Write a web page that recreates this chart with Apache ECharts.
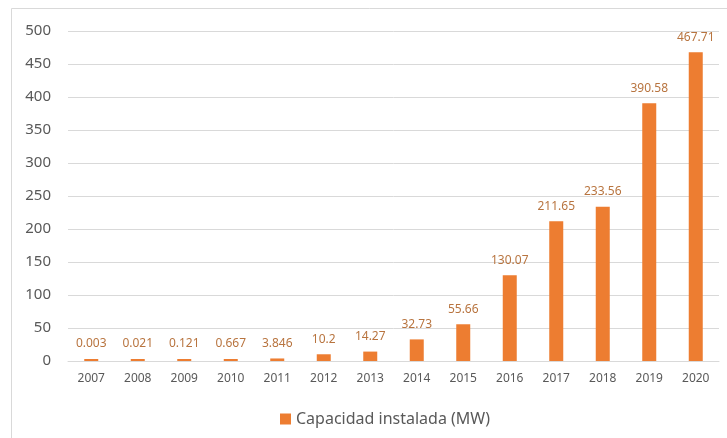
<!DOCTYPE html>
<html><head><meta charset="utf-8">
<script src="https://cdn.jsdelivr.net/npm/echarts@6/dist/echarts.min.js"></script>
<style>html,body{margin:0;padding:0;background:#fff}#c{width:727px;height:438px}</style>
</head><body><div id="c"></div>
<script>
const years = ['2007','2008','2009','2010','2011','2012','2013','2014','2015','2016','2017','2018','2019','2020'];
const capacity = [0.003,0.021,0.121,0.667,3.846,10.2,14.27,32.73,55.66,130.07,211.65,233.56,390.58,467.71];
const labels = ['0.003','0.021','0.121','0.667','3.846','10.2','14.27','32.73','55.66','130.07','211.65','233.56','390.58','467.71'];
const seriesName = 'Capacidad instalada (MW)';
const font = 'Noto Sans';
const chart = echarts.init(document.getElementById('c'), null, {renderer:'canvas'});
chart.setOption({
  animation:false,
  backgroundColor:'#fff',
  graphic:[{type:'rect',shape:{x:11.5,y:8.5,width:800,height:500},style:{fill:null,stroke:'#d9d9d9',lineWidth:1},silent:true}],
  grid:{left:68,right:8,top:31,bottom:77},
  legend:{data:[seriesName],left:275,top:406,itemWidth:11,itemHeight:11,itemGap:6,icon:'rect',
    textStyle:{fontFamily:font,fontSize:16,color:'#595959'}},
  xAxis:{type:'category',data:years,axisTick:{show:false},
    axisLine:{lineStyle:{color:'#d9d9d9'}},
    axisLabel:{fontFamily:font,fontSize:12,color:'#595959',margin:12}},
  yAxis:{type:'value',min:0,max:500,interval:50,
    axisLine:{show:false},axisTick:{show:false},
    splitLine:{lineStyle:{color:'#d9d9d9'}},
    axisLabel:{fontFamily:font,fontSize:15,color:'#595959',margin:17}},
  series:[{name:seriesName,type:'bar',data:capacity,barWidth:14,barMinHeight:2,
    itemStyle:{color:'#ED7D31'},
    label:{show:true,position:'top',distance:9,fontFamily:font,fontSize:12,color:'#B8743F',
      formatter:p=>labels[p.dataIndex]}}]
});
</script></body></html>
